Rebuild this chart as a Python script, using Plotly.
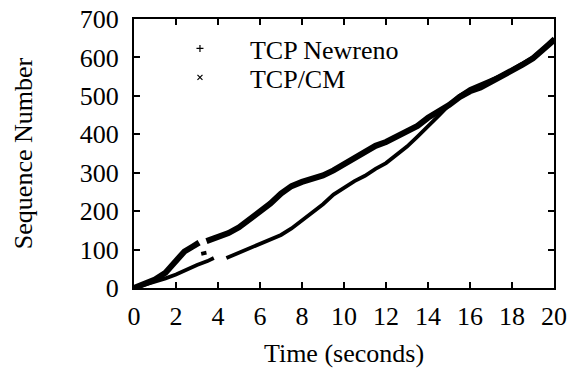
import plotly.graph_objects as go

# Time (s) and sequence numbers (None marks a gap)
newreno_t = [0, 0.5, 1.0, 1.5, 2.0, 2.4, 2.8, 3.1, None, 3.45, 4.0, 4.5, 5.0, 5.5, 6.0, 6.5, 7.0,
             7.5, 8.0, 8.5, 9.0, 9.5, 10.0, 10.5, 11.0, 11.5, 12.0, 12.5, 13.0, 13.5, 14.0,
             14.5, 15.0, 15.5, 16.0, 16.5, 17.0, 17.5, 18.0, 18.5, 19.0, 19.5, 20.0]
newreno_seq = [0, 10, 22, 40, 72, 95, 108, 118, None, 122, 132, 143, 158, 178, 198, 220, 246,
               265, 276, 284, 293, 306, 322, 340, 358, 370, 380, 393, 407, 422, 443,
               458, 476, 497, 512, 522, 536, 550, 566, 581, 598, 620, 645]

cm_t = [0, 0.5, 1.0, 1.5, 2.0, 2.5, 3.0, 3.5, 3.8, None, 4.4, 5.0, 5.5, 6.0, 6.5, 7.0, 7.5,
        8.0, 8.5, 9.0, 9.5, 10.0, 10.5, 11.0, 11.5, 12.0, 12.5, 13.0, 13.5, 14.0, 14.5,
        15.0, 15.5, 16.0, 16.5, 17.0, 17.5, 18.0, 18.5, 19.0, 19.5, 20.0,
        None, 3.2, 3.45]
cm_seq = [0, 8, 16, 25, 35, 48, 60, 70, 78, None, 78, 92, 103, 115, 125, 138, 155,
          175, 195, 218, 243, 262, 278, 292, 310, 325, 345, 368, 394, 420, 448,
          476, 500, 518, 530, 540, 553, 568, 583, 600, 623, 650,
          None, 89, 92]

x_ticks = [0, 2, 4, 6, 8, 10, 12, 14, 16, 18, 20]
y_ticks = [0, 100, 200, 300, 400, 500, 600, 700]

font = dict(family="Liberation Serif, Times New Roman, serif", size=26, color="black")

fig = go.Figure()
fig.add_trace(go.Scatter(x=newreno_t, y=newreno_seq, mode="lines",
                         line=dict(color="black", width=6), showlegend=False))
fig.add_trace(go.Scatter(x=cm_t, y=cm_seq, mode="lines",
                         line=dict(color="black", width=3.8), showlegend=False))
# legend entries (two legends to get the tight row spacing of the original)
fig.add_trace(go.Scatter(x=[None], y=[None], mode="markers", name="TCP Newreno", legend="legend",
                         marker=dict(symbol="cross-thin", size=5, color="black",
                                     line=dict(color="black", width=1.2))))
fig.add_trace(go.Scatter(x=[None], y=[None], mode="markers", name="TCP/CM", legend="legend2",
                         marker=dict(symbol="x-thin", size=5, color="black",
                                     line=dict(color="black", width=1.2))))

axis_common = dict(showline=True, linecolor="black", linewidth=2, mirror="ticks",
                   ticks="inside", ticklen=6, tickwidth=2, tickcolor="black",
                   showgrid=False, zeroline=False, tickfont=font, automargin=False)

legend_common = dict(x=0.038, xanchor="left", yanchor="top", bgcolor="rgba(0,0,0,0)",
                     font=font, itemwidth=90, tracegroupgap=0)

fig.update_layout(
    template="none",
    width=569, height=369,
    margin=dict(l=134, r=15, t=19, b=81),
    paper_bgcolor="white", plot_bgcolor="white",
    font=font,
    xaxis=dict(range=[0, 20], tickvals=x_ticks, ticklabelstandoff=4,
               title=dict(text="Time (seconds)", font=font, standoff=14),
               **axis_common),
    yaxis=dict(range=[0, 700], tickvals=y_ticks, ticklabelstandoff=8,
               title=dict(text="Sequence Number", font=font, standoff=40),
               **axis_common),
    legend=dict(y=0.9777, **legend_common),
    legend2=dict(y=0.8699, **legend_common),
)

fig.write_html("out.html")
